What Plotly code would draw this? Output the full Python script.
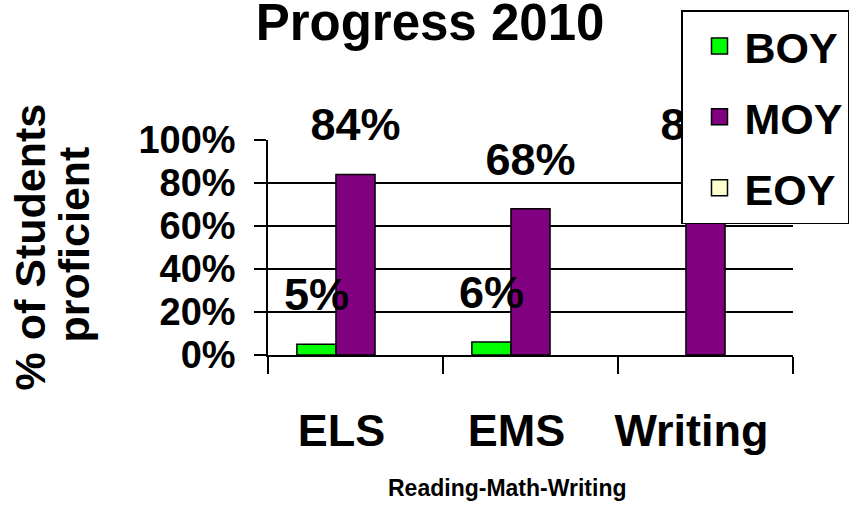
import plotly.graph_objects as go

# ---------------- data ----------------
categories = ["ELS", "EMS", "Writing"]
series_names = ["BOY", "MOY", "EOY"]
boy_values = [5, 6, None]
moy_values = [84, 68, 84]
eoy_values = [None, None, None]
y_tick_values = [0, 20, 40, 60, 80, 100]
y_tick_labels = ["0%", "20%", "40%", "60%", "80%", "100%"]

colors = {"BOY": "#00FF00", "MOY": "#800080", "EOY": "#FFFFCC"}
FONT = "Liberation Sans, Arial, sans-serif"

series = list(zip(series_names, [boy_values, moy_values, eoy_values]))

fig = go.Figure()

# bars
for name, vals in series:
    fig.add_trace(go.Bar(
        x=categories, y=vals, name=name, offsetgroup=name,
        marker=dict(color=colors[name], line=dict(color="black", width=1.5)),
        showlegend=False, hoverinfo="skip",
    ))

# data labels (grouped scatter text, invisible markers give the gap above bars)
for name, vals in series:
    fig.add_trace(go.Scatter(
        x=categories, y=vals, mode="markers+text", offsetgroup=name,
        text=[f"{v}%" if v is not None else "" for v in vals],
        textposition="top center",
        textfont=dict(family=FONT, size=45, color="black", weight="bold"),
        marker=dict(size=35, opacity=0, color="rgba(0,0,0,0)"),
        cliponaxis=False, showlegend=False, hoverinfo="skip",
    ))

# legend entries
for name, vals in series:
    fig.add_trace(go.Scatter(
        x=[None], y=[None], mode="markers", name=name, legendgroup=name,
        offsetgroup=name,
        marker=dict(symbol="square", size=16, color=colors[name],
                    line=dict(color="black", width=1.5)),
        hoverinfo="skip",
    ))

fig.update_layout(
    width=852, height=510,
    margin=dict(l=268, r=59, t=140, b=155, autoexpand=False),
    paper_bgcolor="white", plot_bgcolor="white",
    barmode="group", bargap=0.33, bargroupgap=0,
    scattermode="group", scattergap=0.33,
    font=dict(family=FONT, color="black"),
    title=dict(text="Progress 2010", x=430 / 852, xanchor="center", xref="container",
               y=1 - 22 / 510, yanchor="middle", yref="container",
               font=dict(size=51, family=FONT, color="black", weight="bold")),
    legend=dict(x=681 / 852, y=1 - 10 / 510, xref="container", yref="container",
                xanchor="left", yanchor="top", bgcolor="white",
                bordercolor="black", borderwidth=1.5,
                font=dict(size=43, family=FONT, color="black", weight="bold"),
                tracegroupgap=12, indentation=12, itemwidth=40),
    annotations=[
        dict(text="% of Students", x=0, y=0.5, xref="paper", yref="paper",
             xshift=-239, textangle=-90, showarrow=False,
             xanchor="center", yanchor="middle",
             font=dict(size=43, family=FONT, color="black", weight="bold")),
        dict(text="proficient", x=0, y=0.5, xref="paper", yref="paper",
             xshift=-195, yshift=3, textangle=-90, showarrow=False,
             xanchor="center", yanchor="middle",
             font=dict(size=43, family=FONT, color="black", weight="bold")),
        dict(text="Reading-Math-Writing", x=0, y=0, xref="paper", yref="paper",
             xshift=239, yshift=-133, showarrow=False,
             xanchor="center", yanchor="middle",
             font=dict(size=23, family=FONT, color="black", weight="bold")),
    ],
)

fig.update_xaxes(
    type="category", categoryorder="array", categoryarray=categories,
    range=[-0.5, 2.5], tickson="boundaries", ticks="outside", ticklen=17,
    tickwidth=1.5, tickcolor="black", showline=True, linecolor="black",
    linewidth=1.5, showgrid=False, zeroline=False, tickangle=0, automargin=False,
    tickfont=dict(size=45, family=FONT, color="black", weight="bold"),
    ticklabelstandoff=35, ticklabelshift=-14,
)
fig.update_yaxes(
    range=[0, 100], tickvals=y_tick_values, ticktext=y_tick_labels,
    ticks="outside", ticklen=12, tickwidth=1.5, tickcolor="black",
    showline=True, linecolor="black", linewidth=1.5, automargin=False,
    showgrid=True, gridcolor="black", gridwidth=1.5, zeroline=False,
    tickfont=dict(size=38, family=FONT, color="black", weight="bold"),
    ticklabelstandoff=11,
)

fig.write_html("out.html", config={"displayModeBar": False},
               post_script="document.body.style.margin='0';")
